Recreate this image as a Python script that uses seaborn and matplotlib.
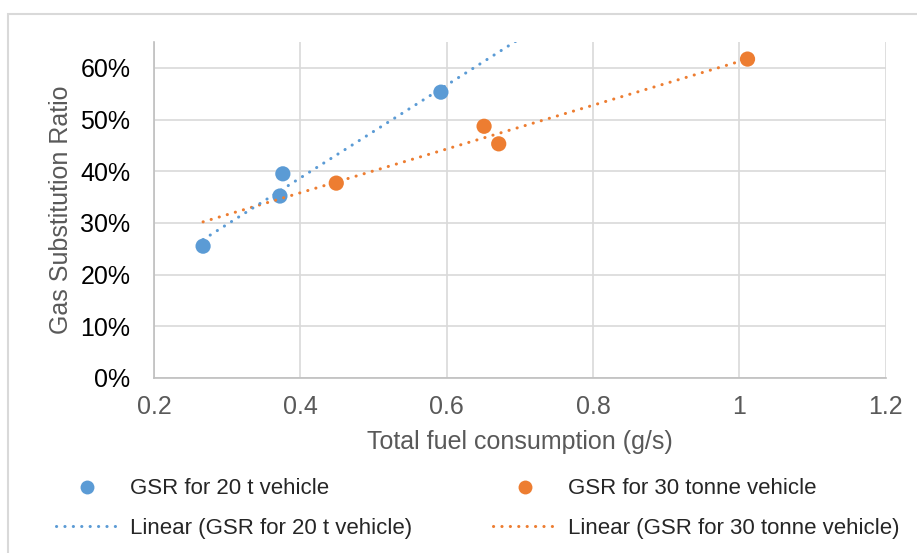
import numpy as np
import pandas as pd
import seaborn as sns
import matplotlib.pyplot as plt
from matplotlib.lines import Line2D
from matplotlib.patches import Rectangle
from matplotlib.ticker import PercentFormatter

# data
fuel_20t = [0.267, 0.372, 0.376, 0.592]
gsr_20t = [0.255, 0.352, 0.395, 0.553]
fuel_30t = [0.449, 0.651, 0.671, 1.011]
gsr_30t = [0.377, 0.487, 0.453, 0.617]

name_20t = "GSR for 20 t vehicle"
name_30t = "GSR for 30 tonne vehicle"

blue = "#5B9BD5"
orange = "#ED7D31"
dots = (0, (0.05, 2.7))

sns.set_style("white")
plt.rcParams["font.family"] = ["Liberation Sans", "DejaVu Sans"]

df = pd.DataFrame({
    "fuel": fuel_20t + fuel_30t,
    "gsr": gsr_20t + gsr_30t,
    "series": [name_20t] * len(fuel_20t) + [name_30t] * len(fuel_30t),
})

fig = plt.figure(figsize=(9.17, 5.53), dpi=100)
ax = fig.add_axes([0.168, 0.3165, 0.798, 0.6075])

sns.scatterplot(data=df, x="fuel", y="gsr", hue="series",
                palette={name_20t: blue, name_30t: orange},
                s=120, linewidth=0, ax=ax, legend=False, zorder=3)

# linear trendlines (Excel style)
x_start = min(fuel_20t)
for xs, ys, c, x0, x1 in [(fuel_30t, gsr_30t, orange, x_start, max(fuel_30t)),
                          (fuel_20t, gsr_20t, blue, x_start, 0.75)]:
    k, b = np.polyfit(xs, ys, 1)
    xx = np.array([x0, x1])
    ax.plot(xx, k * xx + b, color=c, lw=2.2, linestyle=dots,
            dash_capstyle="round", zorder=4)

ax.set_xlim(0.2, 1.2)
ax.set_ylim(0, 0.65)
ax.set_xticks(np.arange(0.2, 1.21, 0.2))
ax.set_xticklabels(["0.2", "0.4", "0.6", "0.8", "1", "1.2"])
ax.set_yticks(np.arange(0, 0.61, 0.1))
ax.yaxis.set_major_formatter(PercentFormatter(1.0, decimals=0))

ax.grid(True, color="#D9D9D9", lw=1.2)
ax.set_axisbelow(True)
for s in ["top", "right"]:
    ax.spines[s].set_visible(False)
for s in ["left", "bottom"]:
    ax.spines[s].set_color("#BFBFBF")
    ax.spines[s].set_linewidth(1.2)

ax.tick_params(axis="both", length=0, labelsize=18)
ax.tick_params(axis="x", colors="#595959", pad=12)
ax.tick_params(axis="y", colors="black", pad=17)
ax.set_xlabel("Total fuel consumption (g/s)", fontsize=18, color="#595959", labelpad=8)
ax.set_ylabel("Gas Substitution Ratio", fontsize=18, color="#595959", labelpad=5)

handles = [
    Line2D([], [], ls="none", marker="o", ms=10, color=blue, mec="none"),
    Line2D([], [], color=blue, lw=2.2, linestyle=dots, dash_capstyle="round"),
    Line2D([], [], ls="none", marker="o", ms=10, color=orange, mec="none"),
    Line2D([], [], color=orange, lw=2.2, linestyle=dots, dash_capstyle="round"),
]
labels = [name_20t, "Linear (" + name_20t + ")", name_30t, "Linear (" + name_30t + ")"]
fig.legend(handles, labels, loc="center left", bbox_to_anchor=(0.039, 0.08),
           ncol=2, frameon=False, fontsize=16, handlelength=2.8,
           handletextpad=0.55, columnspacing=3.65, labelspacing=0.85)

fig.patches.append(Rectangle((8 / 917, -0.05), 1.0, (553 - 14) / 553 + 0.05,
                             transform=fig.transFigure, fill=False,
                             edgecolor="#D9D9D9", lw=1.5))

fig.savefig("out.png", dpi=100)
